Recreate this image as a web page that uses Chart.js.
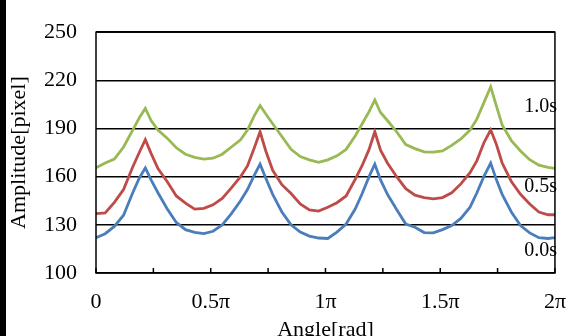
<!DOCTYPE html>
<html lang="en">
<head>
    <meta charset="UTF-8">
    <title>Amplitude vs Angle</title>
    <style>
        body { margin: 0; overflow: hidden; background: #fff; }
        #wrap { position: relative; width: 582px; height: 336px; overflow: hidden; }
        #myChart { position: absolute; top: 0; left: 0; }
        #edge { position: absolute; top: 0; left: 0; width: 6px; height: 336px; background: #000; }
    </style>
</head>
<body>
    <div id="wrap">
        <canvas id="myChart" width="582" height="350"></canvas>
        <div id="edge"></div>
    </div>

    <script src="https://cdn.jsdelivr.net/npm/chart.js"></script>

    <script>
// angle in units of pi
const angles = [0, 0.04, 0.08, 0.12, 0.16, 0.19, 0.215, 0.24, 0.27, 0.31, 0.35, 0.39, 0.43, 0.47,
    0.51, 0.55, 0.59, 0.63, 0.66, 0.69, 0.715, 0.74, 0.77, 0.81, 0.85, 0.89, 0.93, 0.97,
    1.01, 1.05, 1.09, 1.13, 1.16, 1.19, 1.215, 1.24, 1.27, 1.31, 1.35, 1.39, 1.43, 1.47,
    1.51, 1.55, 1.59, 1.63, 1.66, 1.69, 1.72, 1.745, 1.77, 1.81, 1.85, 1.89, 1.93, 1.97, 2.0];

const amp00 = [122, 124.5, 129, 136, 150, 159.5, 165.5, 158, 150, 140, 131.5, 127, 125.3, 124.5,
    126, 130, 137, 145, 152, 161, 167.8, 159, 149, 138, 130, 125.5, 123, 121.8,
    121.5, 125.5, 130.5, 140, 149.5, 160, 167.8, 158, 149, 139.5, 130.5, 128.5, 125.2, 125,
    127, 129.5, 134, 141, 150, 160, 168.5, 158, 149, 138, 129.5, 125, 122, 121.5, 122];

const amp05 = [137, 137.5, 144, 152, 166, 175.5, 183, 174.5, 165, 157, 148, 143.5, 139.8, 140.3,
    142.5, 146.5, 153, 160, 166.7, 178, 188, 176, 164, 155, 149.5, 143, 139.3, 138.6,
    141, 143.8, 148, 158.5, 167, 177, 188, 176.5, 168.5, 160, 152.5, 148.5, 147, 146.2,
    147, 150, 155.5, 162.5, 170, 181, 189.2, 180, 168.5, 157, 149, 143, 138, 136.3, 136.3];

const amp10 = [165.5, 168.5, 171, 178.5, 189, 197, 202.5, 195, 189, 184, 178, 174, 172, 171,
    171.5, 174, 178.5, 183, 189, 198, 204.3, 199, 193, 185, 177, 172.5, 170.5, 169,
    170.5, 173, 177, 185.5, 193, 200.5, 207.8, 200, 195, 188, 180, 177.5, 175.5, 175.3,
    176, 179.5, 183.5, 189, 196, 206, 216, 204, 192.2, 182.5, 176, 170.6, 167.2, 165.8, 165.2];

const seriesNames = ['0.0s', '0.5s', '1.0s'];
const seriesColors = ['#4a7ebb', '#be4b48', '#98b954'];
const labelAt = [114, 154, 203.5];   // y value where the series name sits

const yTicks = [100, 130, 160, 190, 220, 250];

const serif = 'Liberation Serif';

function points(vals) {
    return angles.map((a, i) => ({ x: a, y: vals[i] }));
}

const frame = {
    id: 'frame',
    afterDraw(chart) {
        const c = chart.ctx;
        const { left, right, top, bottom } = chart.chartArea;
        const xs = chart.scales.x, ys = chart.scales.y;
        c.save();
        c.strokeStyle = '#000';
        c.lineWidth = 1.5;
        c.strokeRect(left, top, right - left, bottom - top);
        // tick marks pointing into the plot
        xs.ticks.forEach(t => {
            const px = xs.getPixelForValue(t.value);
            c.beginPath();
            c.moveTo(px, bottom);
            c.lineTo(px, bottom - 5);
            c.stroke();
        });
        c.fillStyle = '#000';
        c.font = '20px "' + serif + '"';
        c.textAlign = 'right';
        c.textBaseline = 'middle';
        seriesNames.forEach((n, i) => {
            c.fillText(n, xs.getPixelForValue(2) + 2, ys.getPixelForValue(labelAt[i]));
        });
        c.restore();
    }
};

const ctx = document.getElementById('myChart');
new Chart(ctx, {
    type: 'line',
    data: {
        datasets: [
            { label: seriesNames[0], data: points(amp00), borderColor: seriesColors[0] },
            { label: seriesNames[1], data: points(amp05), borderColor: seriesColors[1] },
            { label: seriesNames[2], data: points(amp10), borderColor: seriesColors[2] }
        ]
    },
    options: {
        responsive: false,
        animation: false,
        layout: { padding: { top: 18, right: 14, left: 0, bottom: 0 } },
        elements: {
            point: { radius: 0 },
            line: { borderWidth: 2.8, tension: 0 }
        },
        plugins: { legend: { display: false }, tooltip: { enabled: false } },
        scales: {
            x: {
                type: 'linear',
                min: 0,
                max: 2,
                afterFit: s => { s.height = 77; },
                grid: { drawOnChartArea: false, drawTicks: false },
                border: { display: false },
                ticks: {
                    stepSize: 0.25,
                    autoSkip: false,
                    maxRotation: 0,
                    padding: 16,
                    color: '#000',
                    font: { family: serif, size: 22 },
                    callback: v => (v * 2) % 1 === 0 ? (v === 0 ? '0' : v + 'π') : ''
                },
                title: {
                    display: true,
                    text: 'Angle[rad]',
                    color: '#000',
                    font: { family: serif, size: 22 },
                    padding: { top: 0, bottom: 7 }
                }
            },
            y: {
                min: 100,
                max: 250,
                afterFit: s => { s.width = 96; },
                afterBuildTicks: s => { s.ticks = yTicks.map(v => ({ value: v })); },
                grid: { color: '#000', lineWidth: 1.5, drawTicks: false },
                border: { display: false },
                ticks: {
                    padding: 19,
                    color: '#000',
                    font: { family: serif, size: 22 }
                },
                title: {
                    display: true,
                    text: 'Amplitude[pixel]',
                    color: '#000',
                    font: { family: serif, size: 22 },
                    padding: { top: 6, bottom: 0 }
                }
            }
        }
    },
    plugins: [frame]
});
    </script>
</body>
</html>
